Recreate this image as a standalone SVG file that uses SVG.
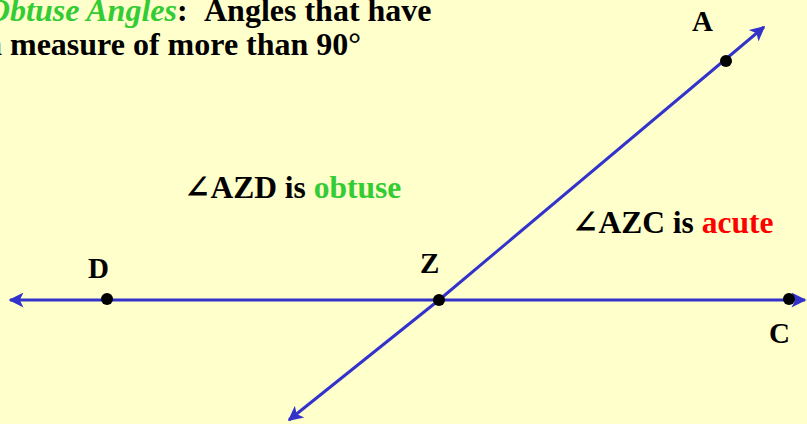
<svg xmlns="http://www.w3.org/2000/svg" width="807" height="424" viewBox="0 0 807 424">
<defs>
<style>
.t{font-family:"Liberation Serif","Times New Roman",serif;font-weight:bold;font-size:32px;fill:#000}
.lbl{font-family:"Liberation Serif","Times New Roman",serif;font-weight:bold;font-size:29px;fill:#000}
.ang{font-family:"Liberation Serif","DejaVu Serif",serif;font-weight:bold;font-size:31.5px;fill:#000}
.green{fill:#33CC33}
.red{fill:#FF0000}
.ln{stroke:#3333CC;stroke-width:3;fill:none}
.dot{fill:#000}
</style>
<marker id="ah" viewBox="0 0 10 10" refX="9" refY="5" markerWidth="6" markerHeight="5" markerUnits="strokeWidth" orient="auto">
<path d="M0,0 L10,5 L0,10 L2.5,5 Z" fill="#3333CC"/>
</marker>
</defs>
<rect width="807" height="424" fill="#FFFFCC"/>
<g id="title">
<text class="t" x="-13" y="21"><tspan class="green" font-style="italic">Obtuse Angles</tspan>:<tspan x="204">Angles that have</tspan></text>
<text class="t" x="-14" y="55">a measure of more than 90°</text>
</g>
<g id="connectors">
<line class="ln" x1="440" y1="300" x2="10" y2="300" marker-end="url(#ah)"/>
<line class="ln" x1="440" y1="300" x2="805" y2="300" marker-end="url(#ah)"/>
<line class="ln" x1="439" y1="300" x2="764" y2="27" marker-end="url(#ah)"/>
<line class="ln" x1="439" y1="300" x2="289" y2="420" marker-end="url(#ah)"/>
</g>
<g id="node-A">
<circle class="dot" cx="726" cy="61" r="6"/>
<text class="lbl" x="692" y="31">A</text>
</g>
<g id="node-D">
<circle class="dot" cx="107" cy="299" r="6"/>
<text class="lbl" x="88" y="278">D</text>
</g>
<g id="node-Z">
<circle class="dot" cx="439" cy="300" r="6"/>
<text class="lbl" x="420" y="273">Z</text>
</g>
<g id="node-C">
<circle class="dot" cx="789" cy="299" r="6"/>
<text class="lbl" x="769" y="343">C</text>
</g>
<g id="label-AZD">
<text class="ang" x="184" y="198">∠AZD is <tspan class="green">obtuse</tspan></text>
</g>
<g id="label-AZC">
<text class="ang" x="572" y="233">∠AZC is <tspan class="red">acute</tspan></text>
</g>
</svg>
